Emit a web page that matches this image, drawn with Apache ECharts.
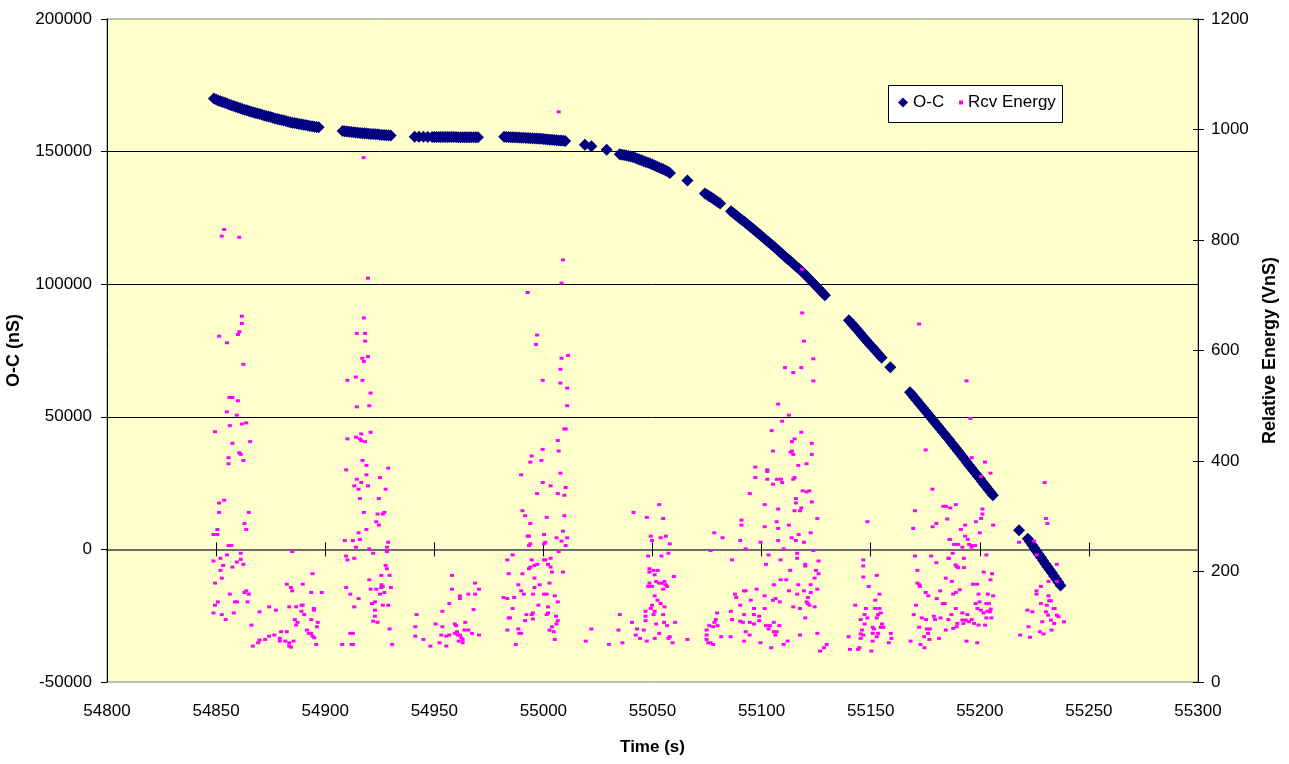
<!DOCTYPE html>
<html>
<head>
<meta charset="utf-8">
<title>O-C and Rcv Energy</title>
<script src="https://cdn.jsdelivr.net/npm/echarts@6/dist/echarts.min.js"></script>
<style>
  html, body { margin: 0; padding: 0; background: #fff; }
  #main { width: 1289px; height: 764px; }
</style>
</head>
<body>
<div id="main"></div>
<script>
// O-C (nS) readings
const ocTime = [
  54849, 54850, 54851, 54852, 54853, 54854, 54855, 54856, 54857, 54858, 54859, 54860, 54861, 54862, 54863,
  54864, 54865, 54866, 54867, 54868, 54869, 54870, 54871, 54872, 54873, 54874, 54875, 54876, 54877, 54878,
  54879, 54880, 54881, 54882, 54883, 54884, 54885, 54886, 54887, 54888, 54889, 54890, 54891, 54892, 54893,
  54894, 54895, 54896, 54897,
  54908, 54909, 54910, 54911, 54912, 54913, 54914, 54915, 54916, 54917, 54918, 54919, 54920, 54921, 54922,
  54923, 54924, 54925, 54926, 54927, 54928, 54929, 54930,
  54941, 54943, 54945, 54947, 54949, 54950, 54951, 54952, 54953, 54954, 54955, 54956, 54957, 54958, 54959,
  54960, 54961, 54962, 54963, 54964, 54965, 54966, 54967, 54968, 54969, 54970,
  54982, 54983, 54984, 54985, 54986, 54987, 54988, 54989, 54990, 54991, 54992, 54993, 54994, 54995, 54996,
  54997, 54998, 54999, 55000, 55001, 55002, 55003, 55004, 55005, 55006, 55007, 55008, 55009, 55010,
  55019, 55022, 55029,
  55035, 55036, 55037, 55038, 55039, 55040, 55041, 55042, 55043, 55044, 55045, 55046, 55047, 55048, 55049,
  55050, 55051, 55052, 55053, 55054, 55055, 55056, 55057, 55058,
  55066,
  55074, 55075, 55076, 55077, 55078, 55079, 55080, 55081,
  55086, 55087, 55088, 55089, 55090, 55091, 55092, 55093, 55094, 55095, 55096, 55097, 55098, 55099, 55100,
  55101, 55102, 55103, 55104, 55105, 55106, 55107, 55108, 55109, 55110, 55111, 55112, 55113, 55114, 55115,
  55116, 55117, 55118, 55119, 55120, 55121, 55122, 55123, 55124, 55125, 55126, 55127, 55128, 55129,
  55140, 55141, 55142, 55143, 55144, 55145, 55146, 55147, 55148, 55149, 55150, 55151, 55152, 55153, 55154, 55155,
  55159,
  55168, 55169, 55170, 55171, 55172, 55173, 55174, 55175, 55176, 55177, 55178, 55179, 55180, 55181, 55182,
  55183, 55184, 55185, 55186, 55187, 55188, 55189, 55190, 55191, 55192, 55193, 55194, 55195, 55196, 55197,
  55198, 55199, 55200, 55201, 55202, 55203, 55204, 55205, 55206,
  55218,
  55222, 55223, 55224, 55225, 55226, 55227, 55228, 55229, 55230, 55231, 55232, 55233, 55234, 55235, 55236, 55237
]
const ocValue = [
  170000, 169650, 169300, 169000, 168700, 168400, 168100, 167800, 167500, 167200, 166900, 166600, 166300, 166050, 165800,
  165550, 165300, 165050, 164800, 164600, 164400, 164150, 163900, 163650, 163400, 163200, 163000, 162750, 162500, 162300,
  162100, 161900, 161700, 161500, 161300, 161100, 160900, 160750, 160600, 160450, 160300, 160150, 160000, 159850, 159700,
  159550, 159400, 159300, 159200,
  157800, 157700, 157600, 157500, 157400, 157300, 157200, 157100, 157000, 156950, 156900, 156800, 156700, 156650, 156600,
  156550, 156500, 156400, 156300, 156250, 156200, 156150, 156100,
  155600, 155600, 155600, 155550, 155500, 155500, 155500, 155500, 155500, 155500, 155500, 155500, 155500, 155500, 155500,
  155500, 155450, 155450, 155450, 155400, 155400, 155400, 155400, 155400, 155400, 155400,
  155600, 155550, 155500, 155450, 155400, 155400, 155350, 155300, 155250, 155200, 155150, 155100, 155050, 155000, 154950,
  154900, 154850, 154800, 154750, 154650, 154600, 154500, 154450, 154350, 154300, 154200, 154150, 154100, 154000,
  152600, 152000, 150700,
  149000, 148850, 148700, 148500, 148300, 148150, 148000, 147650, 147300, 147000, 146700, 146400, 146100, 145800, 145500,
  145150, 144800, 144400, 144000, 143650, 143300, 142900, 142500, 141900,
  139100,
  134200, 133700, 133200, 132650, 132100, 131550, 131000, 130400,
  127500, 126850, 126200, 125550, 124900, 124250, 123600, 122900, 122200, 121550, 120900, 120200, 119500, 118800, 118100,
  117400, 116700, 116000, 115300, 114600, 113900, 113150, 112400, 111650, 110900, 110200, 109500, 108800, 108100, 107350,
  106600, 105900, 105200, 104400, 103600, 102750, 101900, 101050, 100200, 99350, 98500, 97600, 96700, 95800,
  86400, 85450, 84500, 83550, 82600, 81650, 80700, 79750, 78800, 77850, 76900, 76000, 75100, 74150, 73200, 72300,
  68700,
  59300, 58300, 57300, 56300, 55300, 54300, 53300, 52300, 51300, 50300, 49300, 48300, 47300, 46300, 45300,
  44300, 43300, 42300, 41300, 40250, 39200, 38150, 37100, 36050, 35000, 33950, 32900, 31850, 30800, 29750,
  28700, 27700, 26700, 25650, 24600, 23550, 22500, 21450, 20400,
  7200,
  4000, 2850, 1700, 500, -700, -1850, -3000, -4200, -5400, -6550, -7700, -8850, -10000, -11200, -12400, -13600
]

// Rcv Energy (VnS) readings
const energyTime = [
  54917.6, 54853.7, 54852.6, 54860.6, 54919.6, 54861.8, 54861.8, 54860.7, 54860.0, 54851.4, 54855.0, 54917.7, 54914.5, 54918.3, 54918.3,
  54862.5, 54856.1, 54857.5, 54860.0, 54854.9, 54859.5, 54863.8, 54861.8, 54856.3, 54849.5, 54865.6, 54857.5, 54860.6, 54861.3, 54855.7,
  54862.5, 54855.7, 54853.7, 54851.4, 54851.4, 54865.0, 54863.0, 54863.8, 54850.6, 54848.8, 54850.6, 54855.7, 54857.0, 54855.0, 54861.3,
  54852.0, 54848.8, 54861.3, 54859.5, 54862.5, 54853.2, 54857.5, 54852.0, 54852.6, 54849.5, 54863.8, 54863.0, 54865.0, 54856.3, 54850.8,
  54849.5, 54858.7, 54859.5, 54864.4, 54848.8, 54852.6, 54858.1, 54854.4, 54866.2,
  54884.9, 54869.9, 54874.3, 54877.4, 54866.8, 54869.3, 54869.9, 54872.5, 54874.3, 54876.7, 54879.2, 54879.2, 54879.8, 54882.4, 54881.7,
  54883.5, 54883.5, 54884.3, 54885.5, 54882.4, 54884.3, 54884.9, 54889.7, 54883.5, 54886.7, 54889.1, 54889.7, 54889.1, 54890.4, 54886.1,
  54887.3, 54886.7, 54893.6, 54894.2, 54898.4, 54894.8, 54894.8, 54893.6, 54891.6, 54892.4, 54893.6, 54894.2, 54895.0, 54896.6, 54896.2,
  54895.9,
  54910.2, 54914.0, 54917.1, 54917.0, 54917.7, 54919.6, 54920.8, 54914.5, 54920.2, 54910.2, 54914.1, 54915.9, 54916.5, 54918.3, 54916.5,
  54920.8, 54917.1, 54918.9, 54909.6, 54918.9, 54925.1, 54928.9, 54914.5, 54916.5, 54913.3, 54915.3, 54919.6, 54927.7, 54915.9, 54924.6,
  54917.7, 54924.0, 54926.4, 54927.1, 54923.4, 54924.6, 54918.9, 54915.3, 54915.9, 54909.0, 54912.7, 54914.1, 54920.2, 54922.0, 54928.9,
  54928.3, 54928.3, 54909.6, 54910.2, 54913.3, 54927.7, 54928.3, 54925.7, 54929.5, 54920.2, 54925.8, 54926.4, 54925.7, 54930.1, 54920.8,
  54923.4, 54909.6, 54911.5, 54927.1, 54925.1, 54915.3, 54921.4, 54922.8, 54926.4, 54928.9, 54913.3, 54922.8, 54922.8, 54922.0, 54924.0,
  54929.5, 54911.5, 54912.7, 54907.8, 54912.1, 54912.7, 54930.7,
  54958.1, 54958.1, 54961.7, 54961.7, 54965.6, 54956.9, 54953.7, 54941.9, 54941.3, 54941.3, 54950.6, 54953.7, 54959.4, 54960.0, 54964.2,
  54965.6, 54963.8, 54953.2, 54956.9, 54959.4, 54960.4, 54960.6, 54961.8, 54962.4, 54963.0, 54961.2, 54963.0, 54945.0, 54948.2, 54952.4,
  54955.5, 54955.5, 54968.7, 54970.5, 54968.7, 54968.0, 54967.3, 54970.5,
  54997.1, 54996.6, 55008.3, 55011.3, 55007.8, 54999.7, 55007.8, 55010.9, 55010.9, 55009.6, 55010.2, 55006.6, 54999.7, 55007.0, 54994.6,
  54994.0, 54999.1, 55007.8, 54989.8, 54999.7, 55003.3, 55010.2, 54997.1, 55006.6, 55009.6, 54990.4, 54991.6, 55001.5, 55009.6, 54994.0,
  54992.8, 54993.4, 55000.3, 55009.0, 55010.9, 55008.3, 55006.0, 55010.2, 54993.4, 54994.0, 55000.3, 55000.9, 55007.0, 54985.9, 54983.5,
  54994.6, 55000.3, 55000.9, 55003.3, 54997.2, 54995.9, 54994.0, 54993.4, 55002.1, 55003.3, 55003.9, 55009.0, 54984.1, 54990.4, 54995.9,
  55002.8, 54988.5, 54989.8, 54995.9, 54998.3, 54991.0, 54995.2, 55000.3, 55001.5, 55005.2, 54981.7, 54983.5, 54986.6, 55006.6, 54985.9,
  54997.7, 55002.1, 54992.2, 54994.6, 54995.2, 55001.5, 55002.1, 55005.8, 54984.1, 54984.7, 54991.6, 54995.2, 55006.6, 55006.0, 55003.9,
  55002.8, 55004.7, 55005.2, 54983.5, 54988.5, 54989.0, 54989.8, 54987.3, 55022.0, 55019.4, 55030.0, 55036.2, 55007.0, 55009.0, 55008.3,
  54992.8,
  55041.3, 55053.1, 55047.4, 55054.9, 55049.2, 55053.7, 55056.1, 55049.8, 55057.9, 55057.3, 55048.0, 55054.1, 55048.6, 55050.5, 55048.6,
  55052.4, 55051.0, 55059.8, 55048.6, 55051.7, 55052.9, 55055.5, 55056.1, 55054.3, 55048.0, 55049.8, 55056.7, 55054.9, 55051.0, 55052.3,
  55053.7, 55049.8, 55055.5, 55049.2, 55051.0, 55046.8, 55050.5, 55046.8, 55054.9, 55035.0, 55046.8, 55051.7, 55055.3, 55056.7, 55060.4,
  55040.6, 55042.9, 55046.0, 55042.3, 55044.3, 55047.4, 55034.4, 55053.1, 55051.0, 55057.9, 55057.3, 55059.2, 55066.0,
  55078.3, 55082.1, 55076.6, 55086.5, 55079.6, 55079.0, 55078.4, 55076.0, 55077.8, 55079.8, 55074.8, 55074.8, 55074.8, 55075.5, 55076.6,
  55077.8, 55081.5, 55085.8, 55119.4, 55123.7, 55110.7, 55114.5, 55118.2, 55123.7, 55107.6, 55112.5, 55109.4, 55104.6, 55118.2, 55115.1,
  55113.9, 55123.0, 55105.2, 55113.3, 55113.9, 55114.5, 55123.0, 55097.1, 55116.8, 55120.6, 55102.6, 55102.6, 55097.1, 55102.6, 55107.0,
  55108.9, 55105.2, 55109.4, 55114.5, 55115.1, 55094.6, 55118.8, 55120.6, 55121.9, 55115.7, 55115.7, 55123.0, 55101.4, 55107.6, 55115.1,
  55117.6, 55118.2, 55090.8, 55090.8, 55106.9, 55107.6, 55101.4, 55112.5, 55125.5, 55090.2, 55099.5, 55107.6, 55113.8, 55115.7, 55117.0,
  55119.4, 55122.5, 55092.7, 55110.1, 55123.7, 55116.3, 55116.3, 55103.2, 55108.7, 55102.0, 55120.0, 55120.0, 55126.1, 55113.1, 55124.9,
  55126.1, 55108.7, 55111.3, 55124.3, 55105.6, 55116.8, 55122.5, 55097.7, 55112.5, 55119.4, 55125.5, 55091.9, 55092.7, 55087.8, 55088.4,
  55101.4, 55116.3, 55121.2, 55122.5, 55095.0, 55105.2, 55106.4, 55108.3, 55120.6, 55121.2, 55121.9, 55090.2, 55096.5, 55101.4, 55114.5,
  55117.6, 55124.3, 55085.9, 55092.0, 55096.5, 55098.9, 55098.9, 55120.0, 55086.5, 55090.2, 55091.4, 55094.6, 55096.5, 55105.6, 55108.1,
  55102.0, 55103.8, 55103.2, 55092.7, 55094.5, 55105.6, 55106.9, 55106.3, 55117.6, 55125.5, 55092.0, 55099.5, 55110.1, 55111.9, 55104.4,
  55129.8, 55128.6, 55126.8, 55118.6, 55118.6,
  55148.5, 55146.6, 55146.6, 55146.6, 55152.8, 55149.1, 55154.0, 55152.1, 55142.9, 55147.8, 55152.1, 55154.0, 55147.2, 55154.6, 55153.4,
  55145.4, 55148.5, 55152.8, 55155.2, 55150.9, 55154.6, 55147.2, 55151.5, 55155.8, 55146.0, 55145.4, 55146.6, 55150.9, 55153.4, 55152.8,
  55145.4, 55139.9, 55159.2, 55159.5, 55158.3, 55150.9, 55140.5, 55144.2, 55144.8, 55150.3,
  55175.2, 55178.3, 55183.3, 55184.5, 55170.3, 55185.1, 55180.1, 55178.4, 55169.5, 55186.1, 55170.3, 55177.7, 55180.1, 55185.6, 55171.4,
  55184.4, 55171.4, 55172.2, 55172.6, 55175.2, 55176.4, 55181.9, 55180.3, 55183.0, 55183.9, 55170.8, 55169.7, 55173.4, 55175.4, 55178.9,
  55179.5, 55182.0, 55185.6, 55172.2, 55175.7, 55177.1, 55176.3, 55184.4, 55174.5, 55176.9, 55181.3, 55168.3, 55172.8, 55174.6, 55172.2,
  55193.9, 55195.7, 55196.3, 55202.4, 55204.9, 55200.6, 55186.5, 55189.0, 55201.2, 55201.2, 55200.6, 55193.3, 55198.2, 55200.0, 55206.1,
  55191.3, 55193.3, 55194.5, 55195.1, 55196.2, 55196.3, 55197.9, 55190.0, 55192.0, 55186.4, 55188.2, 55203.0, 55187.6, 55185.8, 55192.7,
  55189.4, 55190.0, 55188.9, 55192.7, 55187.2, 55201.8, 55205.6, 55204.9, 55196.9, 55198.8, 55190.8, 55189.0, 55187.8, 55199.4, 55203.7,
  55206.1, 55189.0, 55192.0, 55194.3, 55187.0, 55192.0, 55193.6, 55196.3, 55195.1, 55192.5, 55189.7, 55189.4, 55187.8, 55197.4, 55199.4,
  55202.4, 55193.9, 55198.8, 55198.1, 55199.9, 55203.0, 55204.2, 55198.9, 55200.5, 55201.7, 55204.6, 55205.0, 55203.5, 55203.0, 55205.3,
  55229.7, 55230.3, 55231.0, 55218.0, 55224.9, 55226.0, 55235.3, 55231.5, 55235.3, 55228.0, 55226.0, 55226.0, 55231.5, 55228.0, 55230.7,
  55231.8, 55232.6, 55221.8, 55224.1, 55233.8, 55234.3, 55230.3, 55231.3, 55235.3, 55236.1, 55232.6, 55228.6, 55234.1, 55238.6, 55222.3,
  55232.9, 55227.5, 55229.2, 55218.5, 55223.0
]
const energyValue = [
  949, 819, 807, 805, 731, 662, 649, 634, 629, 626, 614, 659, 631, 631, 617,
  575, 515, 515, 509, 489, 483, 469, 467, 464, 453, 435, 432, 415, 412, 406,
  401, 395, 329, 324, 307, 307, 287, 276, 276, 267, 267, 247, 247, 230, 233,
  224, 219, 222, 217, 213, 211, 208, 202, 188, 179, 165, 162, 159, 159, 145,
  139, 145, 145, 145, 125, 122, 125, 113, 103,
  236, 127, 136, 130, 65, 71, 76, 77, 83, 85, 79, 74, 91, 91, 74,
  71, 65, 63, 74, 177, 171, 165, 177, 136, 136, 139, 139, 128, 122, 113,
  108, 103, 162, 196, 162, 133, 130, 113, 94, 88, 88, 83, 80, 108, 100,
  68,
  546, 552, 546, 586, 580, 589, 523, 498, 500, 440, 443, 440, 437, 435, 449,
  452, 401, 392, 384, 375, 370, 387, 367, 361, 355, 349, 355, 349, 332, 332,
  307, 304, 304, 307, 290, 284, 276, 270, 258, 256, 256, 244, 241, 233, 253,
  244, 236, 228, 221, 224, 211, 205, 193, 193, 185, 176, 173, 171, 171, 168,
  168, 171, 159, 162, 159, 151, 142, 145, 139, 139, 136, 130, 119, 110, 108,
  96, 88, 88, 68, 68, 68, 68,
  193, 168, 156, 151, 159, 142, 128, 122, 100, 83, 105, 100, 105, 102, 108,
  94, 94, 85, 85, 88, 91, 85, 85, 80, 77, 74, 71, 77, 65, 71,
  83, 65, 179, 168, 159, 131, 88, 85,
  628, 611, 586, 591, 566, 546, 541, 532, 500, 458, 458, 437, 421, 418, 409,
  398, 401, 378, 375, 361, 355, 352, 341, 341, 338, 310, 301, 298, 301, 287,
  264, 264, 267, 273, 261, 255, 261, 247, 247, 250, 250, 253, 236, 230, 221,
  221, 221, 221, 224, 213, 211, 208, 205, 213, 208, 199, 199, 196, 196, 188,
  179, 176, 165, 171, 176, 159, 159, 159, 159, 156, 153, 151, 153, 145, 133,
  139, 136, 122, 122, 125, 122, 125, 119, 116, 116, 111, 114, 111, 105, 100,
  94, 91, 77, 94, 96, 88, 88, 68, 96, 74, 68, 71, 1032, 764, 722,
  705,
  307, 321, 298, 296, 264, 261, 264, 256, 250, 233, 228, 228, 205, 202, 199,
  202, 194, 191, 179, 182, 179, 182, 176, 179, 173, 173, 173, 168, 156, 148,
  142, 139, 136, 133, 128, 128, 122, 119, 122, 122, 111, 105, 108, 102, 108,
  108, 96, 94, 85, 79, 74, 94, 88, 79, 82, 79, 71, 77,
  270, 261, 238, 221, 125, 113, 108, 102, 100, 102, 94, 85, 77, 71, 71,
  68, 82, 82, 617, 585, 569, 560, 569, 545, 503, 483, 472, 455, 452, 440,
  435, 432, 418, 416, 418, 412, 412, 389, 392, 395, 384, 381, 370, 367, 367,
  367, 358, 361, 367, 370, 341, 346, 344, 346, 332, 324, 326, 321, 313, 310,
  310, 315, 293, 284, 290, 278, 281, 284, 296, 256, 253, 256, 261, 256, 267,
  253, 270, 241, 241, 238, 233, 224, 230, 221, 213, 213, 210, 219, 202, 202,
  196, 185, 185, 188, 176, 176, 176, 168, 165, 165, 168, 165, 165, 159, 153,
  156, 159, 153, 162, 148, 148, 151, 145, 145, 142, 139, 139, 133, 133, 136,
  133, 136, 128, 122, 122, 119, 111, 116, 113, 110, 108, 108, 105, 108, 102,
  102, 102, 96, 91, 85, 91, 91, 85, 85, 88, 74, 71, 68, 74, 62,
  68, 62, 56, 747, 668,
  290, 221, 210, 190, 193, 173, 159, 148, 139, 133, 133, 133, 122, 125, 122,
  113, 116, 116, 105, 99, 99, 105, 96, 99, 94, 87, 85, 88, 88, 82,
  79, 82, 88, 79, 71, 74, 59, 59, 62, 56,
  420, 349, 318, 318, 310, 295, 287, 281, 278, 258, 228, 228, 216, 224, 202,
  188, 179, 176, 173, 162, 156, 165, 151, 142, 142, 139, 122, 116, 113, 119,
  113, 116, 113, 99, 96, 96, 88, 94, 82, 77, 79, 74, 68, 62, 648,
  545, 477, 406, 398, 378, 372, 315, 321, 313, 304, 296, 284, 290, 270, 284,
  276, 264, 258, 249, 244, 247, 247, 249, 244, 258, 249, 230, 233, 224, 224,
  209, 207, 212, 207, 182, 199, 196, 185, 177, 177, 167, 162, 159, 159, 159,
  156, 133, 125, 122, 122, 112, 112, 113, 109, 106, 106, 100, 97, 106, 103,
  103, 74, 71, 142, 145, 142, 142, 133, 130, 125, 127, 132, 128, 116, 116,
  361, 296, 287, 253, 255, 230, 213, 182, 182, 173, 165, 159, 156, 142, 139,
  147, 147, 130, 127, 133, 133, 127, 121, 121, 118, 112, 109, 106, 109, 100,
  94, 91, 87, 85, 81
]

const FONT = "'Liberation Sans', Arial, sans-serif"

const chart = echarts.init(document.getElementById("main"), null, { renderer: "canvas" })

const ocData = ocTime.map((t, i) => [t, ocValue[i]])
const energyData = energyTime.map((t, i) => [t, energyValue[i]])

const plain = (v) => String(v)
const tickLabel = { color: "#000", fontSize: 17, fontFamily: FONT, formatter: plain }
const titleStyle = { color: "#000", fontSize: 17, fontWeight: "bold", fontFamily: FONT }
const sideTitleStyle = { color: "#000", fontSize: 18, fontWeight: "bold", fontFamily: FONT }

const option = {
  animation: false,
  backgroundColor: "#fff",
  textStyle: { fontFamily: FONT },
  grid: {
    left: 107, top: 19, right: 91, bottom: 82,
    outerBoundsMode: "none",
    containLabel: false,
    show: true,
    backgroundColor: "#FFFFCC",
    borderColor: "#808080",
    borderWidth: 1,
  },
  legend: [
    {
      data: ["O-C"],
      left: 898, top: 94, padding: 0, z: 20,
      itemWidth: 10, itemHeight: 10,
      textStyle: { color: "#000", fontSize: 17, fontFamily: FONT },
    },
    {
      data: ["Rcv Energy"],
      left: 959, top: 94, padding: 0, z: 20,
      itemWidth: 4, itemHeight: 4,
      textStyle: { color: "#000", fontSize: 17, fontFamily: FONT },
    },
  ],
  graphic: [
    {
      type: "rect", z: 10,
      shape: { x: 888.5, y: 85.5, width: 174, height: 37 },
      style: { fill: "#fff", stroke: "#000", lineWidth: 1 },
    },
  ],
  xAxis: [
    {
      type: "value", min: 54800, max: 55300, interval: 50,
      position: "bottom",
      axisLine: { show: false, onZero: false },
      axisTick: { show: false },
      splitLine: { show: false },
      axisLabel: Object.assign({ margin: 21 }, tickLabel),
      name: "Time (s)", nameLocation: "middle", nameGap: 57,
      nameTextStyle: titleStyle,
    },
    {
      // zero line of the O-C axis, ticks below
      type: "value", min: 54800, max: 55300, interval: 50,
      position: "bottom",
      axisLine: { show: true, onZero: true, onZeroAxisIndex: 0, lineStyle: { color: "#6e6e6e", width: 2 } },
      axisTick: { show: true, length: 7, lineStyle: { color: "#000" } },
      axisLabel: { show: false },
      splitLine: { show: false },
    },
    {
      // same line, ticks above
      type: "value", min: 54800, max: 55300, interval: 50,
      position: "bottom",
      axisLine: { show: false, onZero: true, onZeroAxisIndex: 0 },
      axisTick: { show: true, inside: true, length: 7, lineStyle: { color: "#000" } },
      axisLabel: { show: false },
      splitLine: { show: false },
    },
  ],
  yAxis: [
    {
      type: "value", min: -50000, max: 200000, interval: 50000,
      position: "left",
      axisLine: { show: true, onZero: false, lineStyle: { color: "#000" } },
      axisTick: { show: true, length: 6, lineStyle: { color: "#000" } },
      axisLabel: Object.assign({ margin: 15 }, tickLabel),
      splitLine: { show: true, showMinLine: false, showMaxLine: false, lineStyle: { color: "#000", width: 1 } },
      name: "O-C (nS)", nameLocation: "middle", nameGap: 84, nameRotate: 90,
      nameTextStyle: sideTitleStyle,
    },
    {
      type: "value", min: 0, max: 1200, interval: 200,
      position: "right",
      axisLine: { show: true, onZero: false, lineStyle: { color: "#000" } },
      axisTick: { show: true, length: 6, lineStyle: { color: "#000" } },
      axisLabel: Object.assign({ margin: 13 }, tickLabel),
      splitLine: { show: false },
      name: "Relative Energy (VnS)", nameLocation: "middle", nameGap: 63, nameRotate: 90,
      nameTextStyle: sideTitleStyle,
    },
    {
      // inner half of the right-hand ticks
      type: "value", min: 0, max: 1200, interval: 200,
      position: "right",
      axisLine: { show: false, onZero: false },
      axisTick: { show: true, inside: true, length: 5, lineStyle: { color: "#000" } },
      axisLabel: { show: false },
      splitLine: { show: false },
    },
  ],
  series: [
    {
      name: "O-C",
      type: "scatter",
      xAxisIndex: 0, yAxisIndex: 0,
      symbol: "diamond",
      symbolSize: 12,
      itemStyle: { color: "#000080", opacity: 1 },
      data: ocData,
    },
    {
      name: "Rcv Energy",
      type: "scatter",
      xAxisIndex: 0, yAxisIndex: 1,
      symbol: "rect",
      symbolSize: [4, 3],
      itemStyle: { color: "#FF00FF", opacity: 1 },
      data: energyData,
    },
  ],
}

chart.setOption(option)
</script>
</body>
</html>
